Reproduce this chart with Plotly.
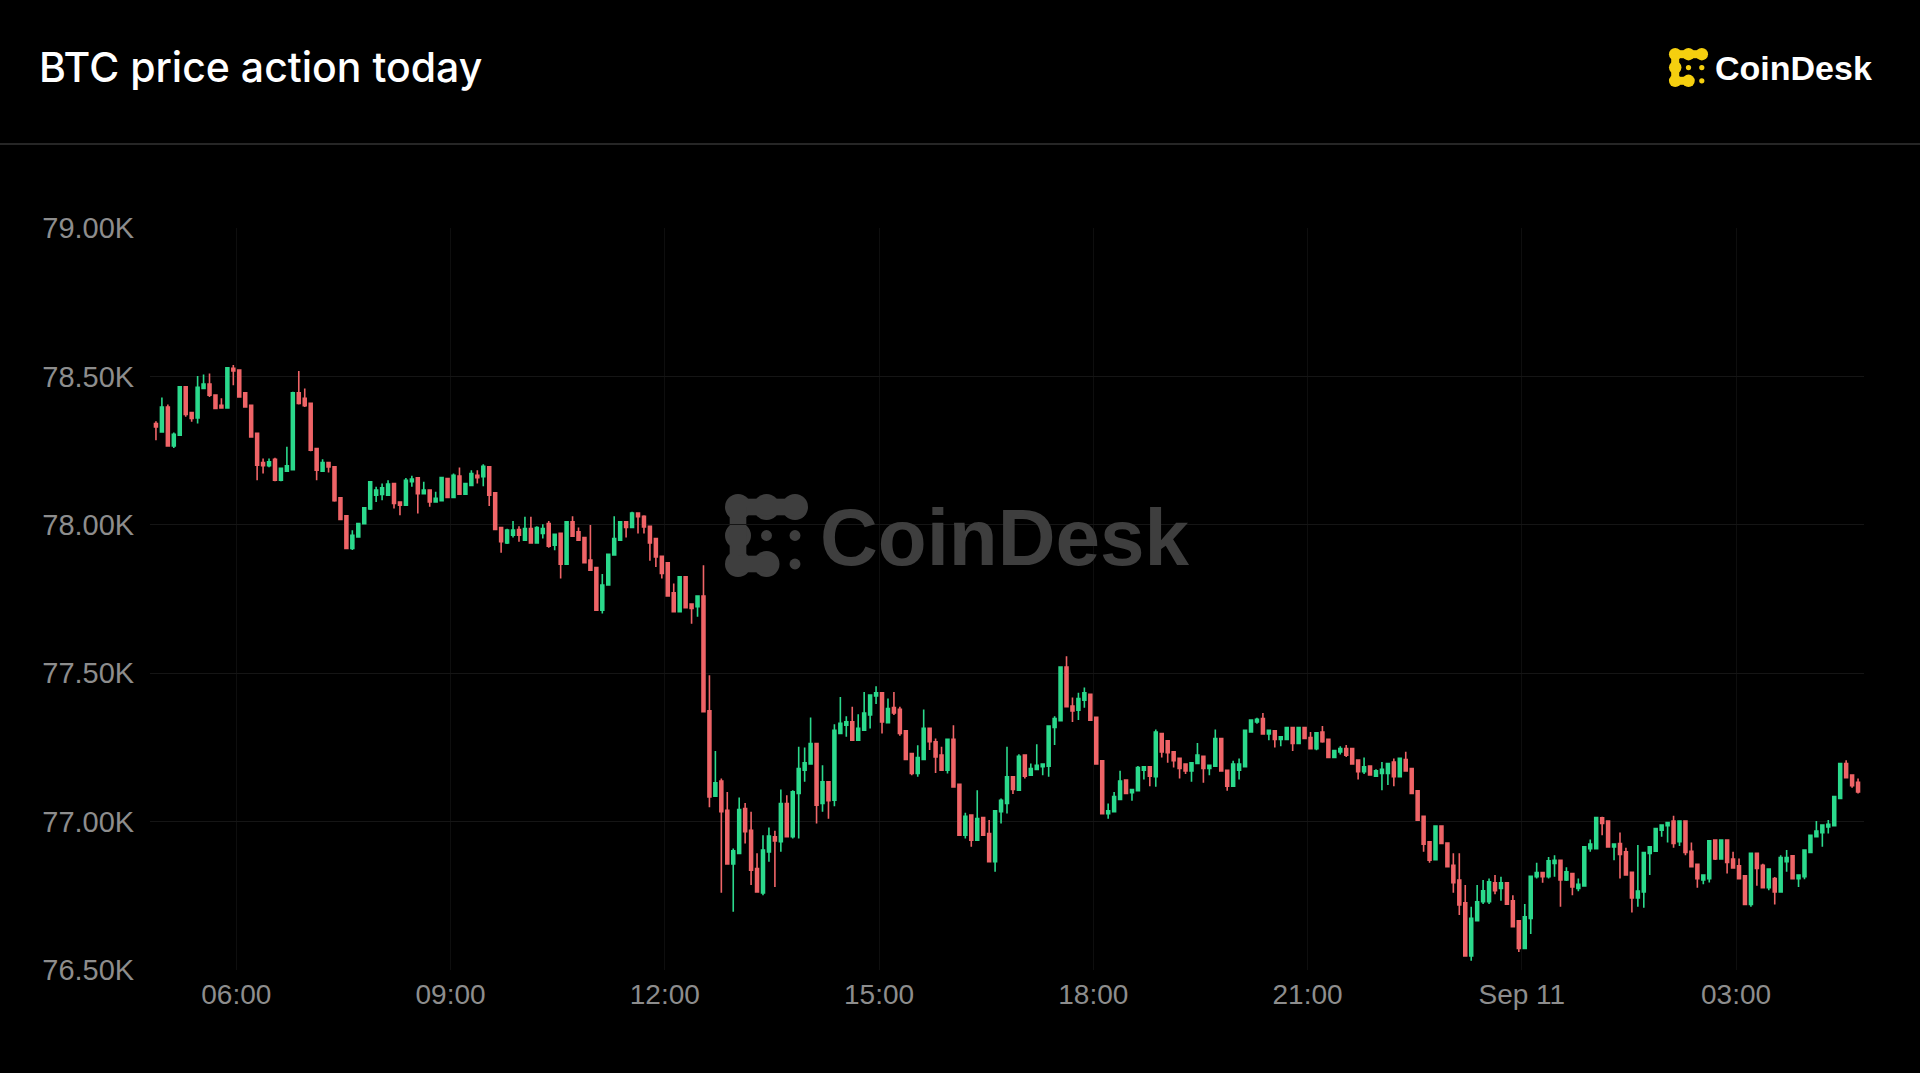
import pandas as pd
import plotly.graph_objects as go

# ---------------- data ----------------
start_time = "2024-09-10 04:50"
n_candles = 287

opens = [78341,78313,78397,78266,78302,78465,78378,78360,78459,78474,78437,78403,78394,78527,78521,78445,78403,78308,78210,78199,
78221,78150,78181,78186,78445,78426,78409,78257,78181,78210,78195,78091,78030,77920,77959,78004,78053,78100,78102,78100,
78139,78077,78066,78145,78158,78105,78117,78077,78081,78156,78092,78164,78103,78133,78167,78162,78195,78108,77991,77939,
77965,77984,77948,77987,77939,77971,78004,77931,77971,77867,78010,77976,77957,77881,77856,77712,77797,77898,77948,78010,
77991,78040,78029,77995,77954,77894,77872,77771,77707,77825,77733,77724,77760,77373,77086,77137,77038,76857,76893,77044,
76971,76842,76760,76898,76949,76932,77061,76949,77095,77173,77194,77263,77061,77134,77072,77297,77325,77336,77274,77308,
77359,77423,77434,77333,77384,77378,77306,77229,77162,77209,77314,77269,77224,77173,77277,77126,76954,77022,76937,77014,
76960,76865,77033,77061,77151,77106,77224,77156,77176,77185,77187,77317,77340,77521,77389,77375,77409,77429,77351,77205,
77027,77033,77075,77140,77097,77104,77173,77185,77151,77297,77272,77235,77213,77194,77171,77196,77220,77179,77187,77280,
77173,77119,77173,77185,77302,77336,77347,77295,77306,77277,77277,77317,77263,77317,77283,77246,77302,77277,77216,77235,
77246,77246,77207,77168,77187,77153,77162,77162,77201,77151,77209,77179,77104,77018,76932,76872,76985,76928,76853,76803,
76726,76547,76666,76730,76730,76794,76775,76794,76733,76666,76573,76674,76814,76828,76814,76859,76870,76803,76825,76775,
76783,76909,76909,77013,77002,76915,76926,76898,76829,76743,76763,76893,76900,76971,76986,77002,76932,77002,76900,76856,
76803,76808,76938,76874,76938,76874,76851,76817,76721,76893,76853,76777,76808,76763,76865,76885,76808,76814,76896,76949,
76963,76982,76986,77078,77196,77157,77132]

highs = [78349,78429,78405,78311,78467,78467,78380,78501,78506,78510,78439,78426,78532,78538,78524,78447,78403,78308,78223,78223,
78226,78192,78263,78448,78518,78459,78409,78257,78221,78212,78195,78091,78030,77982,78006,78060,78145,78128,78139,78150,
78141,78079,78158,78165,78160,78145,78119,78111,78162,78158,78173,78193,78141,78184,78184,78204,78197,78110,77993,77987,
78013,77995,78027,78027,77995,78002,78013,77970,77973,78013,78029,77991,77959,77999,77858,77834,77903,78029,78012,78012,
78044,78042,78032,77997,77956,77896,77874,77802,77827,77827,77735,77762,77864,77493,77238,77145,77100,76909,77081,77063,
77033,76893,76954,76980,76969,77108,77089,77106,77252,77250,77351,77265,77190,77136,77328,77420,77355,77387,77362,77437,
77428,77456,77436,77415,77437,77387,77308,77231,77257,77378,77316,77280,77252,77279,77325,77128,77030,77024,77106,77016,
77005,77038,77078,77252,77153,77227,77226,77196,77261,77196,77324,77355,77523,77557,77418,77434,77452,77431,77353,77207,
77061,77100,77171,77142,77110,77187,77187,77187,77310,77299,77274,77237,77215,77196,77200,77265,77222,77192,77310,77282,
77175,77205,77213,77310,77344,77350,77366,77310,77308,77288,77319,77319,77319,77319,77302,77302,77322,77279,77241,77254,
77258,77248,77209,77216,77189,77176,77201,77198,77213,77215,77235,77181,77106,77020,76934,76988,76987,76930,76893,76893,
76786,76713,76786,76803,76808,76820,76814,76796,76752,76668,76722,76818,76861,76830,76881,76887,76872,76846,76827,76808,
76917,76940,77016,77016,77004,76926,76963,76912,76831,76921,76898,76917,76979,76990,76999,77020,77004,77004,76930,76858,
76823,76937,76940,76940,76940,76898,76876,76819,76895,76896,76858,76842,76813,76887,76904,76887,76823,76906,76956,77002,
76990,77005,77086,77198,77207,77159,77145]

lows = [78285,78311,78263,78259,78300,78364,78347,78341,78459,78431,78390,78392,78392,78470,78428,78394,78293,78150,78173,78194,
78147,78147,78178,78184,78405,78397,78248,78150,78178,78176,78078,78016,77918,77915,77957,78002,78050,78077,78083,78098,
78055,78032,78064,78128,78038,78103,78061,78075,78079,78090,78090,78101,78100,78131,78139,78130,78063,77982,77906,77935,
77957,77943,77946,77937,77937,77954,77923,77914,77819,77865,77960,77946,77870,77845,77710,77701,77795,77896,77946,77957,
77989,77971,77971,77879,77858,77819,77758,77705,77705,77719,77667,77690,77368,77048,77084,76760,76855,76696,76891,76926,
76786,76760,76752,76865,76780,76898,76947,76943,76943,77134,77192,76994,77033,77010,77052,77295,77286,77272,77272,77306,
77314,77396,77297,77331,77359,77289,77207,77156,77151,77207,77241,77164,77171,77162,77115,76952,76943,76915,76935,76952,
76863,76831,76994,77027,77093,77104,77145,77154,77174,77156,77151,77258,77338,77385,77336,77342,77384,77340,77192,77025,
77010,77031,77073,77093,77070,77102,77142,77119,77117,77216,77198,77182,77145,77160,77134,77194,77131,77156,77185,77169,
77104,77117,77142,77183,77300,77330,77293,77274,77250,77254,77275,77238,77261,77278,77244,77240,77266,77214,77214,77226,
77218,77192,77142,77160,77155,77150,77106,77123,77119,77149,77169,77093,77003,76898,76861,76870,76924,76846,76760,76685,
76545,76531,76664,76722,76722,76755,76733,76720,76644,76561,76571,76621,76808,76794,76808,76814,76713,76800,76752,76765,
76781,76898,76907,76954,76913,76870,76808,76818,76694,76713,76710,76820,76898,76949,76930,76912,76918,76887,76846,76777,
76789,76795,76871,76872,76825,76842,76806,76719,76713,76784,76775,76769,76721,76761,76831,76806,76780,76806,76894,76947,
76915,76960,76984,77076,77146,77114,77095]

closes = [78330,78397,78266,78305,78465,78372,78358,78463,78474,78437,78392,78394,78529,78518,78431,78397,78296,78201,78199,78212,
78150,78190,78199,78445,78409,78401,78251,78184,78210,78195,78081,78018,77920,77965,78004,78057,78145,78117,78125,78137,
78072,78066,78150,78154,78105,78117,78077,78089,78159,78092,78167,78103,78139,78173,78159,78197,78100,77984,77943,77982,
77982,77965,77987,77939,77991,77987,77928,77968,77867,78010,77962,77948,77872,77847,77712,77797,77901,77954,78010,77991,
78040,78027,77993,77939,77892,77836,77760,77707,77825,77721,77718,77760,77370,77083,77131,77033,76857,76902,77041,76966,
76836,76763,76904,76951,76935,77061,76949,77100,77179,77198,77263,77055,77134,77070,77308,77331,77336,77274,77314,77366,
77426,77434,77336,77381,77366,77297,77209,77162,77216,77314,77269,77218,77173,77277,77117,76954,77018,76937,77010,76954,
76865,77036,77072,77151,77108,77220,77153,77179,77190,77194,77322,77347,77521,77387,77373,77415,77434,77342,77194,77027,
77036,77084,77137,77095,77108,77182,77185,77153,77302,77235,77232,77205,77179,77171,77198,77224,77179,77190,77280,77171,
77119,77194,77194,77308,77342,77345,77295,77308,77277,77286,77317,77263,77317,77280,77246,77299,77269,77216,77239,77246,
77224,77194,77168,77185,77157,77171,77176,77196,77151,77213,77171,77095,77005,76924,76870,76985,76926,76848,76794,76719,
76547,76674,76730,76767,76797,76767,76794,76722,76646,76573,76679,76816,76828,76814,76868,76870,76803,76831,76780,76789,
76915,76924,77014,76994,76915,76924,76889,76820,76743,76766,76896,76915,76977,76988,76997,76926,77002,76896,76848,76808,
76820,76935,76874,76938,76862,76844,76808,76721,76893,76842,76777,76840,76763,76879,76879,76808,76820,76904,76954,76968,
76988,76991,77084,77196,77148,77121,77100]

y_tick_values = [76500, 77000, 77500, 78000, 78500, 79000]
y_tick_labels = ["76.50K", "77.00K", "77.50K", "78.00K", "78.50K", "79.00K"]
x_tick_values = ["2024-09-10 06:00", "2024-09-10 09:00", "2024-09-10 12:00", "2024-09-10 15:00",
                 "2024-09-10 18:00", "2024-09-10 21:00", "2024-09-11 00:00", "2024-09-11 03:00"]
x_tick_labels = ["06:00", "09:00", "12:00", "15:00", "18:00", "21:00", "Sep 11", "03:00"]
x_range = ["2024-09-10 04:47:30", "2024-09-11 04:47:30"]
y_range = [76500, 79000]

title_text = "BTC price action today"
brand_text = "CoinDesk"

# ---------------- styling ----------------
W, H = 1920, 1073
ML, MR, MT, MB = 150, 56, 228, 103
PW, PH = W - ML - MR, H - MT - MB
GREEN = "#2bd98c"
RED = "#ef6467"
TICK = "#8d8d8d"
GRID = "#151515"
VGRID = "#0e0e0e"
FONT = "Liberation Sans, Arial, sans-serif"
TITLE_FONT = "Inter, Liberation Sans, Arial, sans-serif"

def px(xp):
    return (xp - ML) / PW

def py(yp):
    return (H - MB - yp) / PH

times = pd.date_range(start_time, periods=n_candles, freq="5min") + pd.Timedelta(seconds=150)

fig = go.Figure()
fig.add_trace(go.Candlestick(
    x=times, open=opens, high=highs, low=lows, close=closes,
    increasing=dict(line=dict(color=GREEN, width=1.6), fillcolor=GREEN),
    decreasing=dict(line=dict(color=RED, width=1.6), fillcolor=RED),
    whiskerwidth=0, showlegend=False, hoverinfo="skip",
))

shapes = []

def add_icon(cx, cy, s, d, color, layer):
    big = [(0, 0), (1, 0), (2, 0), (0, 1), (0, 2), (1, 2)]
    small = [(1, 1), (2, 1), (2, 2)]
    links = [((0, 0), (1, 0)), ((1, 0), (2, 0)), ((0, 0), (0, 1)), ((0, 1), (0, 2)), ((0, 2), (1, 2))]
    def pos(c, r):
        return cx + (c - 1) * s, cy + (r - 1) * s
    for c, r in big:
        x, y = pos(c, r)
        shapes.append(dict(type="circle", xref="paper", yref="paper", layer=layer,
                           x0=px(x - d / 2), x1=px(x + d / 2), y0=py(y + d / 2), y1=py(y - d / 2),
                           fillcolor=color, line=dict(width=0)))
    ds = d * 0.42
    for c, r in small:
        x, y = pos(c, r)
        shapes.append(dict(type="circle", xref="paper", yref="paper", layer=layer,
                           x0=px(x - ds / 2), x1=px(x + ds / 2), y0=py(y + ds / 2), y1=py(y - ds / 2),
                           fillcolor=color, line=dict(width=0)))
    t = d * 0.32
    for (c1, r1), (c2, r2) in links:
        x1, y1 = pos(c1, r1)
        x2, y2 = pos(c2, r2)
        if r1 == r2:
            shapes.append(dict(type="rect", xref="paper", yref="paper", layer=layer,
                               x0=px(x1), x1=px(x2), y0=py(y1 + t), y1=py(y1 - t),
                               fillcolor=color, line=dict(width=0)))
        else:
            shapes.append(dict(type="rect", xref="paper", yref="paper", layer=layer,
                               x0=px(x1 - t), x1=px(x1 + t), y0=py(y2), y1=py(y1),
                               fillcolor=color, line=dict(width=0)))

# watermark icon + header logo icon
add_icon(766.5, 535.5, 28.5, 26, "#3e3e3e", "below")
add_icon(1688.5, 67.5, 13.3, 12.5, "#f5cf0f", "above")

# header separator
shapes.append(dict(type="line", xref="paper", yref="paper", x0=px(0), x1=px(W), y0=py(144), y1=py(144),
                   line=dict(color="#262626", width=2), layer="above"))

annotations = [
    dict(text=title_text, xref="paper", yref="paper", x=px(36.5), y=py(67), xanchor="left", yanchor="middle",
         showarrow=False, font=dict(family=TITLE_FONT, size=41, color="#ffffff", weight=500)),
    dict(text="<b>" + brand_text + "</b>", xref="paper", yref="paper", x=px(1713), y=py(68), xanchor="left",
         yanchor="middle", showarrow=False, font=dict(family=FONT, size=34, color="#ffffff")),
    dict(text="<b>" + brand_text + "</b>", xref="paper", yref="paper", x=px(1004), y=py(537), xanchor="center",
         yanchor="middle", showarrow=False, font=dict(family=FONT, size=80, color="#3e3e3e")),
]

fig.update_layout(
    width=W, height=H,
    margin=dict(l=ML, r=MR, t=MT, b=MB),
    paper_bgcolor="#000000", plot_bgcolor="#000000",
    shapes=shapes, annotations=annotations,
    showlegend=False,
    xaxis=dict(type="date", range=x_range, tickvals=x_tick_values, ticktext=x_tick_labels,
               showgrid=True, gridcolor=VGRID, gridwidth=1, zeroline=False, showline=False,
               ticks="", ticklabelstandoff=5,
               tickfont=dict(family=FONT, size=28, color=TICK),
               rangeslider=dict(visible=False), fixedrange=True),
    yaxis=dict(range=y_range, tickvals=y_tick_values, ticktext=y_tick_labels,
               showgrid=True, gridcolor=GRID, gridwidth=1, zeroline=False, showline=False,
               ticks="outside", ticklen=9, tickcolor="rgba(0,0,0,0)",
               tickfont=dict(family=FONT, size=29, color=TICK), fixedrange=True),
)

fig.write_html(
    "out.html",
    config={"displayModeBar": False},
    post_script="document.body.style.margin='0';document.body.style.backgroundColor='#000';",
)
